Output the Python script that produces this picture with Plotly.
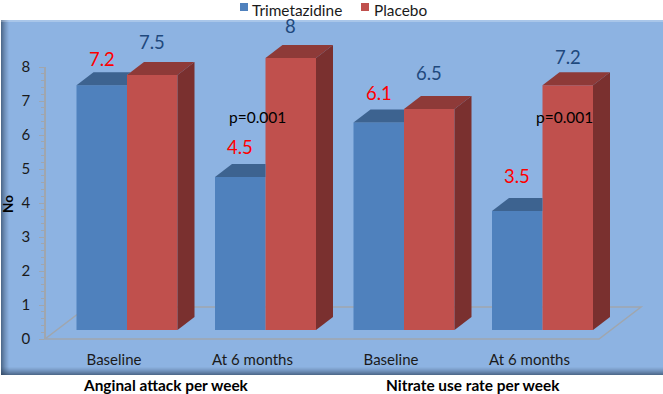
import plotly.graph_objects as go

categories = ["Baseline", "At 6 months", "Baseline", "At 6 months"]
groups = ["Anginal attack per week", "Nitrate use rate per week"]
series_names = ["Trimetazidine", "Placebo"]
trimetazidine = [7.2, 4.5, 6.1, 3.5]
placebo = [7.5, 8, 6.5, 7.2]
p_labels = ["p=0.001", "p=0.001"]

W, H = 663, 394
PANEL_T, PANEL_B = 20, 375
BLUE, RED = "#4F81BD", "#C0504D"
BLUE_TOP, RED_TOP, RED_SIDE = "#3D6390", "#8E3A38", "#7A302F"
PANEL = "#8DB3E2"
TEXT = "#1a1a1a"
PX_Y = 34.0          # pixels per unit
PX_X = 138.5         # pixels per category
X0_PX, Y0_PX = 127.0, 330.0   # group-0 centre, bar base
AXIS_Y0_PX = 339.0
AXIS_X_PX = 45.0
DX, DY = 17 / PX_X, 13 / PX_Y
BW = 50.5 / PX_X
LABEL_OFFSET = -13 / PX_X
FLOOR = "#A0A6AE"


def py(px):
    return (H - px) / H


def dx(px):
    return (px - X0_PX) / PX_X


def dy(px):
    return (Y0_PX - px) / PX_Y


xs = list(range(len(categories)))
xrange_ = [dx(0), dx(W)]
yrange_ = [dy(H), dy(0)]
y2_domain = [py(AXIS_Y0_PX), py(AXIS_Y0_PX - 8 * PX_Y)]

fig = go.Figure()
fig.add_bar(x=xs, y=trimetazidine, name=series_names[0], marker=dict(color=BLUE, line_width=0), offsetgroup="a")
fig.add_bar(x=xs, y=placebo, name=series_names[1], marker=dict(color=RED, line_width=0), offsetgroup="b")


def poly(px, pyy, color):
    fig.add_scatter(x=px, y=pyy, mode="lines", fill="toself", fillcolor=color,
                    line=dict(width=0, color=color), hoverinfo="skip", showlegend=False)


for i, (b, r) in enumerate(zip(trimetazidine, placebo)):
    xl, xm, xr = i - BW, i, i + BW
    # blue top, cut where the red block covers it
    k = max(0, (b + DY - r) / DY) * DX
    poly([xl, xl + DX, xm + k, xm, xm, xl], [b, b + DY, b + DY, r if k else b + DY, b, b], BLUE_TOP)
    # red top and side
    poly([xm, xm + DX, xr + DX, xr, xm], [r, r + DY, r + DY, r, r], RED_TOP)
    poly([xr, xr + DX, xr + DX, xr, xr], [0, DY, r + DY, r, 0], RED_SIDE)

# panel base
shapes = [dict(type="rect", xref="paper", yref="paper", layer="below", x0=1 / W, x1=1,
               y0=py(PANEL_B), y1=py(PANEL_T), fillcolor=PANEL, line_width=0)]

# panel bevel
for n in range(8):
    a = 0.6 * (1 - n / 8) ** 1.3
    shapes.append(dict(type="rect", xref="paper", yref="paper", layer="below",
                       x0=(1 + n) / W, x1=(2 + n) / W, y0=py(PANEL_B), y1=py(PANEL_T),
                       fillcolor=f"rgba(40,60,85,{a:.3f})", line_width=0))
    shapes.append(dict(type="rect", xref="paper", yref="paper", layer="below",
                       x0=1 / W, x1=1, y0=py(PANEL_B - n), y1=py(PANEL_B - n - 1),
                       fillcolor=f"rgba(40,60,85,{a:.3f})", line_width=0))
shapes.append(dict(type="rect", xref="paper", yref="paper", layer="below",
                   x0=1 / W, x1=1, y0=py(PANEL_T + 2), y1=py(PANEL_T),
                   fillcolor="rgba(255,255,255,0.25)", line_width=0))

# floor outline
fx0 = dx(AXIS_X_PX)
fx1 = fx0 + len(categories)
fdx = 42 / PX_X
f0 = dy(AXIS_Y0_PX)
fdy = 32 / PX_Y
shapes.append(dict(type="path", xref="x", yref="y", layer="below",
                   path=f"M{fx0},{f0} L{fx1},{f0} L{fx1 + fdx},{f0 + fdy} L{fx0 + fdx},{f0 + fdy} Z",
                   line=dict(color=FLOOR, width=1.5)))

ann = []
blue_shift = [26, 30, 30, 35]
red_shift = [33, 32, 36, 28]
for i in xs:
    ann.append(dict(x=i - BW / 2, y=trimetazidine[i], text=str(trimetazidine[i]), yshift=blue_shift[i],
                    showarrow=False, xanchor="center", yanchor="middle", font=dict(size=18.5, color="#FF0000")))
    ann.append(dict(x=i + BW / 2, y=placebo[i], text=str(placebo[i]), yshift=red_shift[i],
                    showarrow=False, xanchor="center", yanchor="middle", font=dict(size=18.5, color="#1F497D")))
for i, lab in zip([1, 3], p_labels):
    ann.append(dict(x=i - 8 / PX_X if i == 1 else i + 21.5 / PX_X, y=dy(117), text=lab, showarrow=False,
                    xanchor="center", yanchor="middle", font=dict(size=15.5, color="#000000")))
for g, cx in zip(groups, [166, 473]):
    ann.append(dict(x=dx(cx), y=dy(385), text=f"<b>{g}</b>",
                    showarrow=False, xanchor="center", yanchor="middle", font=dict(size=15.4, color="#000000")))
ann.append(dict(x=dx(8), y=dy(204), text="<b>No</b>", textangle=-90,
                showarrow=False, xanchor="center", yanchor="middle", font=dict(size=13.5, color="#000000")))

# legend row
for name, color, sx, tx in zip(series_names, [BLUE, RED], [240, 361], [252, 374]):
    shapes.append(dict(type="rect", xref="paper", yref="paper", x0=sx / W, x1=(sx + 8) / W,
                       y0=py(11), y1=py(3), fillcolor=color, line_width=0))
    ann.append(dict(x=dx(tx), y=dy(9.5), text=name, showarrow=False,
                    xanchor="left", yanchor="middle", xshift=-2, font=dict(size=15.4, color=TEXT)))

fig.update_layout(
    width=W, height=H, autosize=False,
    margin=dict(l=0, r=0, t=0, b=0, pad=0, autoexpand=False),
    paper_bgcolor="#FFFFFF", plot_bgcolor="rgba(0,0,0,0)",
    font=dict(family="Lato, Carlito, Calibri, sans-serif", color=TEXT),
    barmode="group", bargap=1 - 2 * BW, bargroupgap=0,
    showlegend=False,
    shapes=shapes, annotations=ann,
    xaxis=dict(range=xrange_, domain=[0, 1], anchor="y", tickmode="array",
               tickvals=[i + LABEL_OFFSET for i in xs], ticktext=categories,
               tickfont=dict(size=15, color=TEXT), ticks="inside", ticklen=26, tickcolor="rgba(0,0,0,0)",
               ticklabelposition="inside", showgrid=False, zeroline=False, showline=False),
    yaxis=dict(range=yrange_, domain=[0, 1], visible=False, fixedrange=True),
    yaxis2=dict(range=[0, 8], domain=y2_domain, anchor="free",
                position=AXIS_X_PX / W, side="left", tickmode="linear", dtick=1,
                tickfont=dict(size=15, color=TEXT), ticks="outside", ticklen=5, tickcolor=FLOOR,
                ticklabelstandoff=6,
                minor=dict(dtick=0.2, ticks="outside", ticklen=3, tickcolor=FLOOR),
                showline=True, linecolor=FLOOR, linewidth=1.5, showgrid=False, zeroline=False),
)
# an empty trace so the second axis is drawn
fig.add_scatter(x=[None], y=[None], yaxis="y2", showlegend=False, hoverinfo="skip")
fig.write_html("out.html", config={"displayModeBar": False},
               post_script="document.body.style.margin='0';")
